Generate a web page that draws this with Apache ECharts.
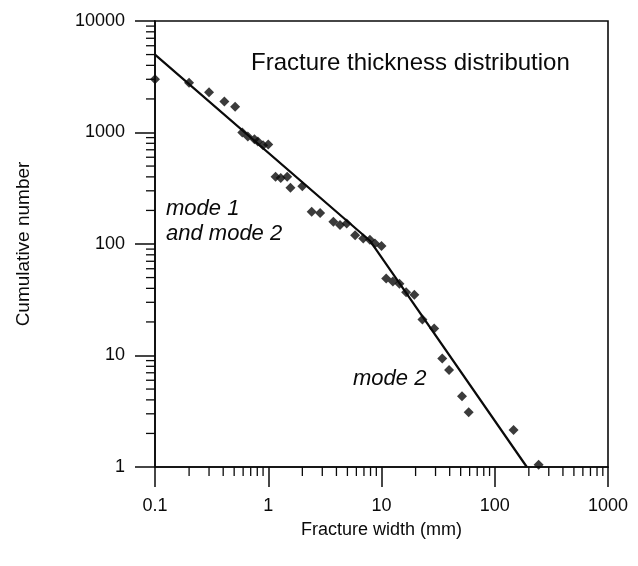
<!DOCTYPE html>
<html>
<head>
<meta charset="utf-8">
<script src="https://cdn.jsdelivr.net/npm/echarts@6/dist/echarts.min.js"></script>
<style>
html,body{margin:0;padding:0;background:#fff;}
#chart{width:638px;height:566px;}
</style>
</head>
<body>
<div id="chart"></div>
<script>
// Data points: fracture width (mm) and cumulative number
const widthMm = [0.1, 0.2, 0.3, 0.41, 0.51, 0.59, 0.66, 0.755, 0.81, 0.9, 1.0, 1.16, 1.29, 1.47, 1.57, 2.0, 2.42, 2.87, 3.76, 4.3, 4.93, 5.85, 6.9, 7.9, 8.75, 10.0, 11.0, 12.6, 14.4, 16.5, 19.5, 23, 29.2, 34.4, 39.5, 51.4, 58.9, 146.6, 244];
const cumNumber = [3000, 2800, 2300, 1900, 1700, 1000, 920, 870, 830, 770, 780, 400, 390, 400, 320, 330, 195, 190, 158, 148, 153, 120, 112, 109, 101, 96, 49, 46, 44, 37, 35, 21, 17.5, 9.4, 7.4, 4.3, 3.1, 2.15, 1.05];
// Fitted power-law line (two segments)
const fitX = [0.1, 7.9, 192];
const fitY = [5000, 107, 1];
// Axis tick labels
const xTickLabels = ['0.1', '1', '10', '100', '1000'];
const yTickLabels = ['1', '10', '100', '1000', '10000'];

// minor tick positions (2..9 times each decade)
const xMinor = [];
for (const d of [0.1, 1, 10, 100]) for (let k = 2; k <= 9; k++) xMinor.push([+(k * d).toPrecision(3), 1]);
const yMinor = [];
for (const d of [1, 10, 100, 1000]) for (let k = 2; k <= 9; k++) yMinor.push([0.1, k * d]);

const FONT = 'Liberation Sans';
const INK = '#0a0a0a';
const points = widthMm.map((x, i) => [x, cumNumber[i]]);
const fit = fitX.map((x, i) => [x, fitY[i]]);

const chart = echarts.init(document.getElementById('chart'), null, {renderer: 'canvas'});
chart.setOption({
  animation: false,
  backgroundColor: '#fff',
  textStyle: {fontFamily: FONT, color: INK},
  grid: {left: 155, right: 30, top: 21, bottom: 99, show: true, borderColor: INK, borderWidth: 1.6, backgroundColor: 'transparent'},
  title: {
    text: 'Fracture thickness distribution',
    left: 246, top: 46,
    textStyle: {fontFamily: FONT, fontSize: 24, fontWeight: 'normal', color: INK}
  },
  graphic: [
    {type: 'text', left: 166, top: 196, style: {text: 'mode 1\nand mode 2', font: 'italic 22px "Liberation Sans"', fill: INK, lineHeight: 25}},
    {type: 'text', left: 353, top: 368, style: {text: 'mode 2', font: 'italic 22px "Liberation Sans"', fill: INK}}
  ],
  xAxis: {
    type: 'log', logBase: 10, min: 0.1, max: 1000,
    name: 'Fracture width (mm)', nameLocation: 'middle', nameGap: 54,
    nameTextStyle: {fontFamily: FONT, fontSize: 18, color: INK},
    axisLine: {show: true, lineStyle: {color: INK, width: 1.6}},
    axisTick: {show: true, inside: false, length: 20, lineStyle: {color: INK, width: 1.5}},
    axisLabel: {fontFamily: FONT, fontSize: 18, color: INK, margin: 30,
      formatter: v => xTickLabels.find(t => Math.abs(parseFloat(t) - v) / v < 1e-6) || ''},
    splitLine: {show: false}
  },
  yAxis: {
    type: 'log', logBase: 10, min: 1, max: 10000,
    name: 'Cumulative number', nameLocation: 'middle', nameGap: 122, nameRotate: 90,
    nameTextStyle: {fontFamily: FONT, fontSize: 19, color: INK},
    axisLine: {show: true, lineStyle: {color: INK, width: 1.6}},
    axisTick: {show: true, inside: false, length: 20, lineStyle: {color: INK, width: 1.5}},
    axisLabel: {fontFamily: FONT, fontSize: 18, color: INK, margin: 30,
      formatter: v => yTickLabels.find(t => Math.abs(parseFloat(t) - v) / v < 1e-6) || ''},
    splitLine: {show: false}
  },
  series: [
    {
      type: 'custom', silent: true, clip: false, z: 1,
      data: xMinor,
      renderItem: (params, api) => {
        const p = api.coord([api.value(0), api.value(1)]);
        return {type: 'line', shape: {x1: p[0], y1: p[1], x2: p[0], y2: p[1] + 9}, style: {stroke: INK, lineWidth: 1.3}};
      }
    },
    {
      type: 'custom', silent: true, clip: false, z: 1,
      data: yMinor,
      renderItem: (params, api) => {
        const p = api.coord([api.value(0), api.value(1)]);
        return {type: 'line', shape: {x1: p[0], y1: p[1], x2: p[0] - 9, y2: p[1]}, style: {stroke: INK, lineWidth: 1.3}};
      }
    },
    {
      type: 'line', data: fit, symbol: 'none', clip: false, z: 3,
      lineStyle: {color: INK, width: 2.2}
    },
    {
      type: 'scatter', data: points, symbol: 'diamond', symbolSize: 10, clip: false, z: 4,
      itemStyle: {color: INK}
    }
  ]
});
</script>
</body>
</html>
